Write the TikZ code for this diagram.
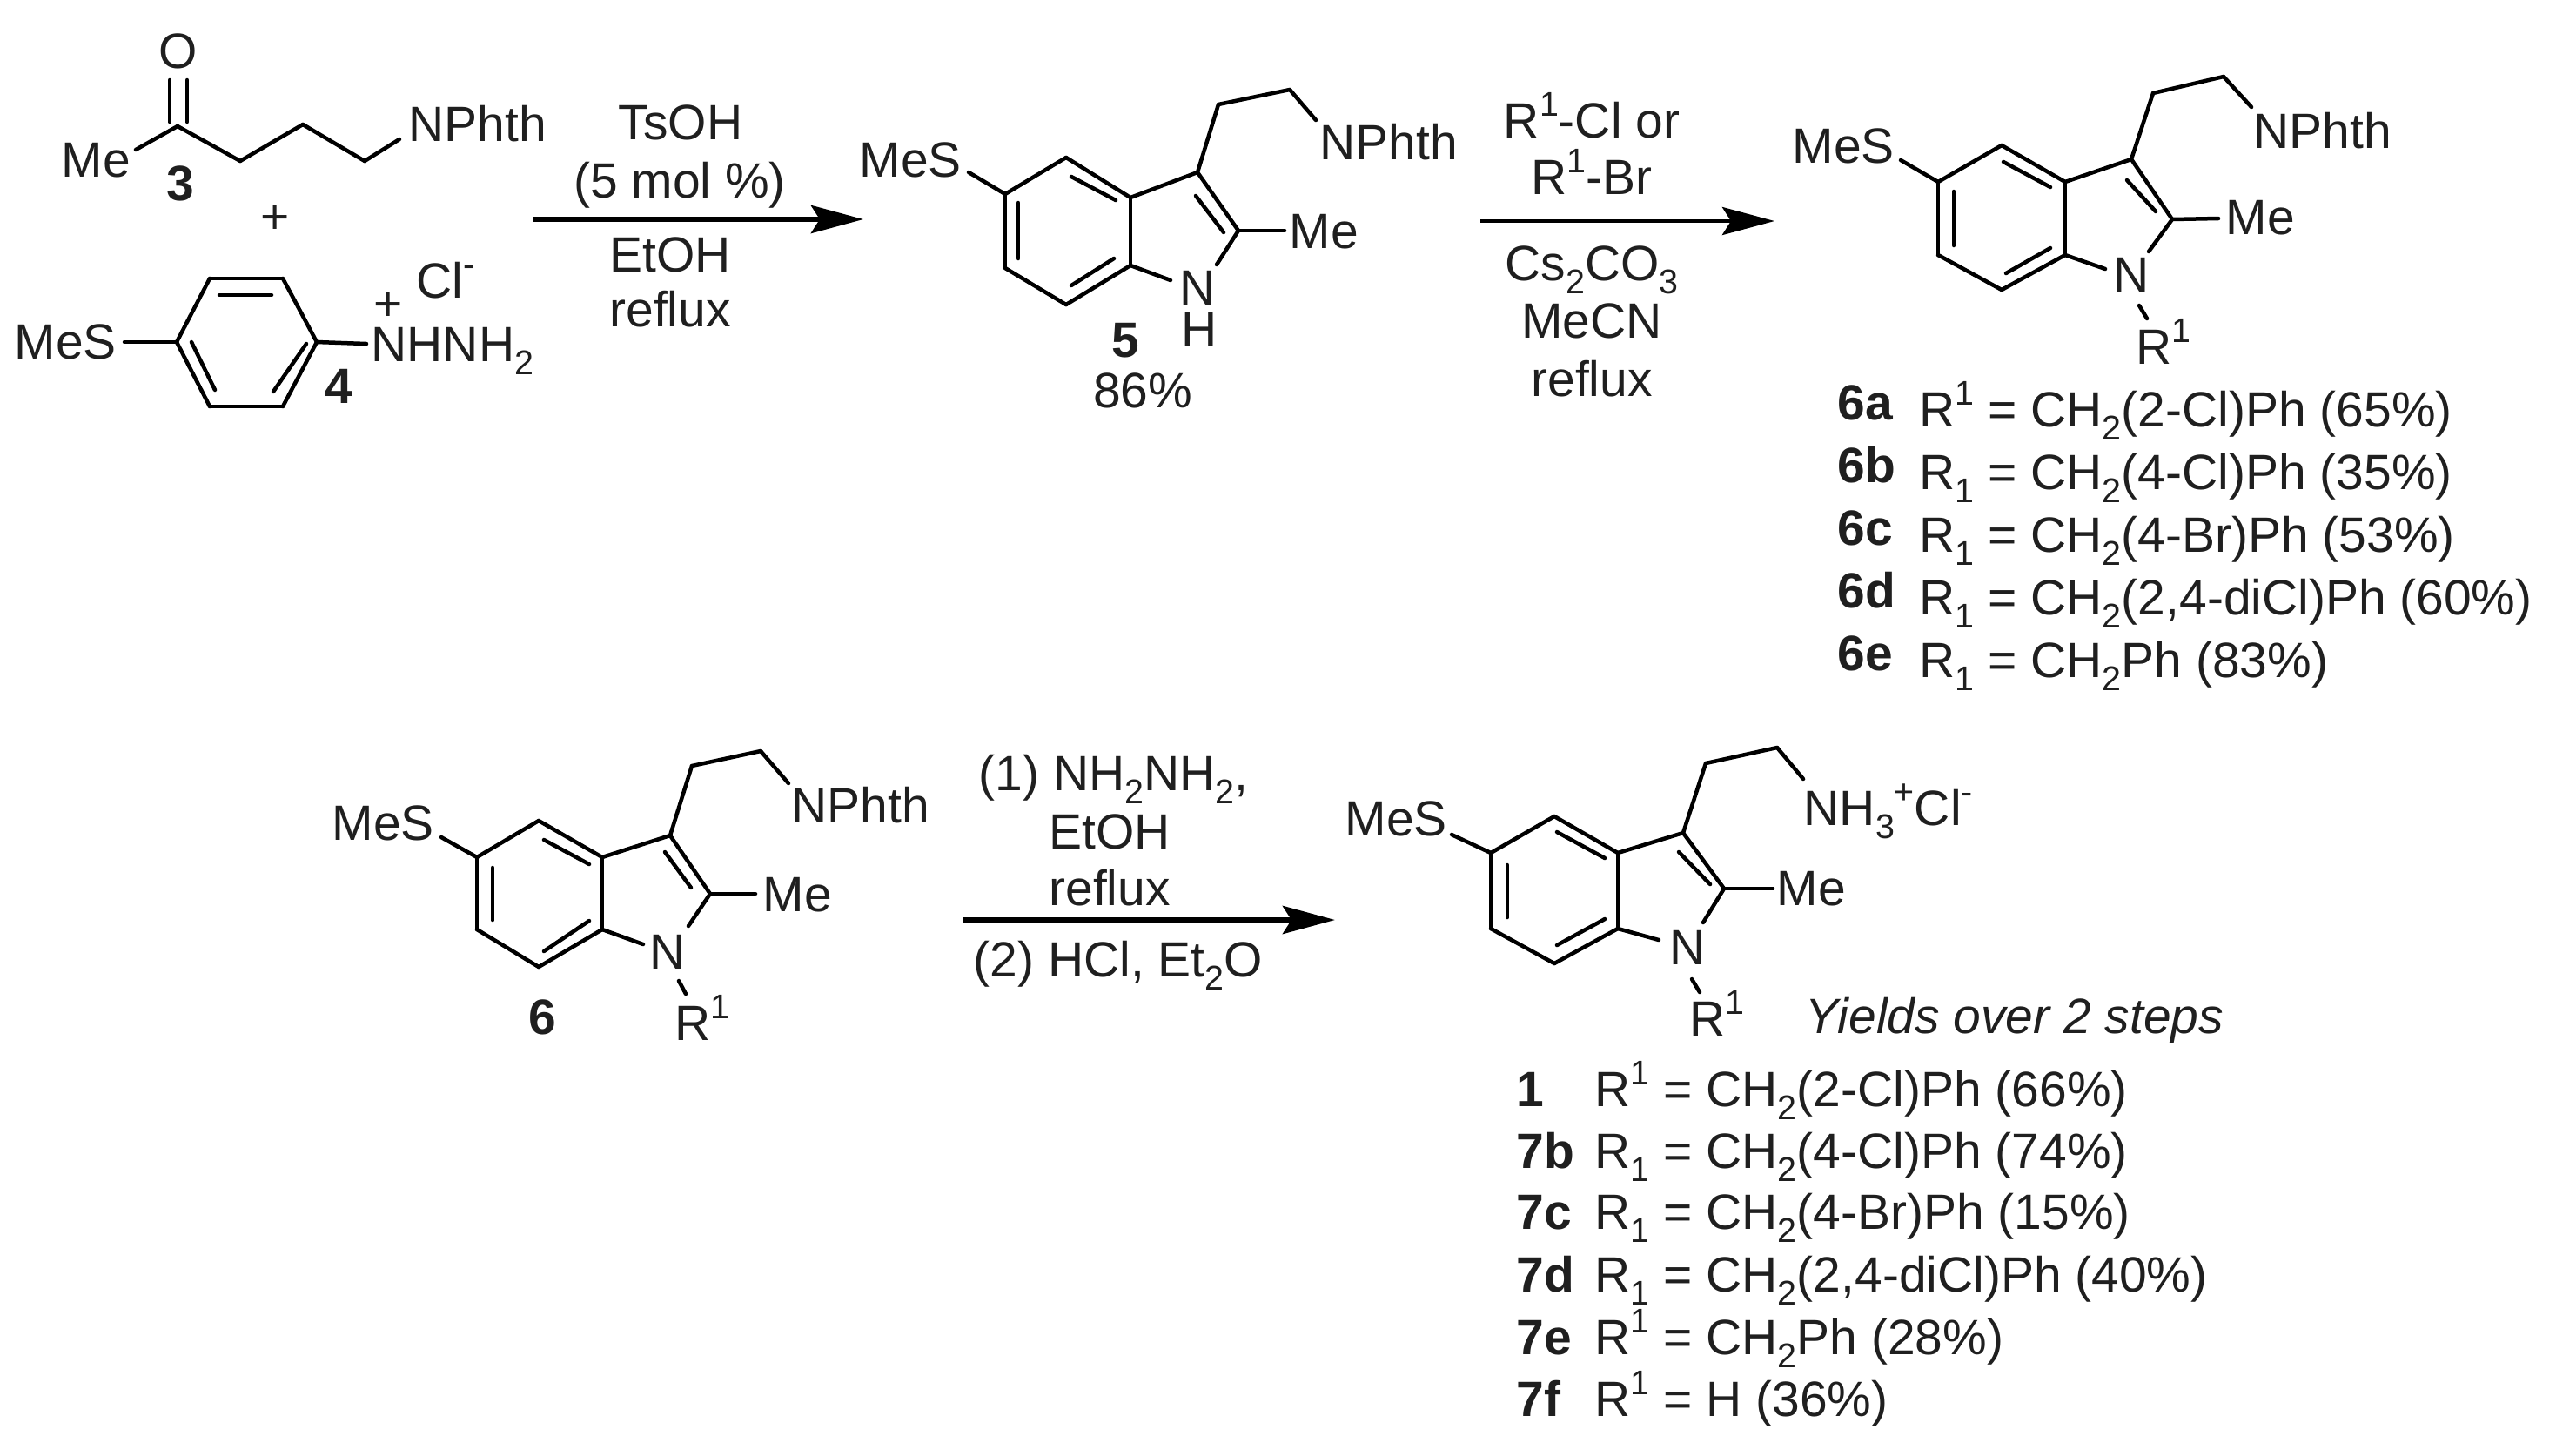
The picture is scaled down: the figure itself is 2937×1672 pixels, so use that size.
\documentclass[tikz,border=0pt]{standalone}
\usepackage{fontspec}
\setmainfont{Liberation Sans}
\usetikzlibrary{arrows.meta}
\newcommand{\chemsize}{\fontsize{16.2}{18}\selectfont}
\newcommand{\up}[1]{\raisebox{0.82ex}{\fontsize{11.2}{12}\selectfont #1}}
\newcommand{\dn}[1]{\raisebox{-0.5ex}{\fontsize{11.2}{12}\selectfont #1}}
\tikzset{
  bond/.style={line width=0.045cm, line cap=round, line join=round},
  rxn/.style={line width=0.06cm, -{Stealth[length=0.6cm, width=0.32cm, inset=0.1cm]}},
  label/.style={inner sep=0pt, font=\chemsize, text=black!88},
  atom/.style={label, anchor=base west, xshift=-0.03cm},
  mid/.style={label, anchor=base},
  cpd/.style={mid, font=\chemsize\bfseries},
}
\begin{document}
\begin{tikzpicture}[x=0.01cm, y=-0.01cm]
  \useasboundingbox (0,0) rectangle (2937,1672);

  % ketone 3
  \foreach \n/\x/\y in {meA/156/172, coA/204/145, ca/276/185, cb/348/143, cc/419/185, ncA/459/160,
      dbLa/195/92, dbLb/195/140, dbRa/215/92, dbRb/215/140}
    \coordinate (\n) at (\x,\y);
  \node[mid] (oxoA) at (205,78) {O};
  \node[atom] (meLabA) at (73,203) {Me};
  \node[atom] (nphA) at (472,162) {NPhth};
  \node[cpd] (cpdA) at (207,230) {3};
  \node[mid] (plusA) at (316,268) {+};
  \path[bond] (meA) edge (coA) (coA) edge (ca) (ca) edge (cb) (cb) edge (cc) (cc) edge (ncA)
        (dbLa) edge (dbLb) (dbRa) edge (dbRb);

  % hydrazine salt 4
  \foreach \n/\x/\y in {ra/241/320, rb/325/320, rc/364/393, rd/325/467, re/241/467, rf/203/393,
      ia/252/339, ib/312/339, ic/220/393, id/247/448, ie/352/395, if/314/450,
      sB/143/393, nB/421/395}
    \coordinate (\n) at (\x,\y);
  \node[atom] (mesB) at (19,412) {MeS};
  \node[atom] (hydB) at (429,415) {NHNH\dn{2}};
  \node[mid] (chgB) at (446,368) {+};
  \node[atom] (clB) at (481,342) {Cl\up{-}};
  \node[cpd] (cpdB) at (389,463) {4};
  \path[bond] (ra) edge (rb) (rb) edge (rc) (rc) edge (rd) (rd) edge (re) (re) edge (rf) (rf) edge (ra)
        (ia) edge (ib) (ic) edge (id) (ie) edge (if) (sB) edge (rf) (rc) edge (nB);

  % first arrow
  \coordinate (arAa) at (613,252);
  \coordinate (arAb) at (992,252);
  \draw[rxn] (arAa) -- (arAb);
  \node[mid] (tsoh) at (782,160) {TsOH};
  \node[mid] (molp) at (781,227) {(5 mol \%)};
  \node[mid] (etohA) at (770,312) {EtOH};
  \node[mid] (refA) at (770,375) {reflux};

  % indole 5
  \foreach \n/\x/\y in {a5/1155/223, b5/1225/181, c5/1299/227, d5/1299/305, e5/1225/350, f5/1155/308,
      g5/1376/198, h5/1423/265, j5/1400/120, k5/1482/103, l5/1512/138, s5/1113/198, m5/1476/265,
      p5/1345/322, q5/1398/304,
      ia5/1231/203, ib5/1282/230, ic5/1170/233, id5/1170/297, ie5/1231/328, if5/1280/297,
      ig5/1374/225, ih5/1406/267}
    \coordinate (\n) at (\x,\y);
  \node[atom] (mes5) at (990,203) {MeS};
  \node[atom] (nph5) at (1519,183) {NPhth};
  \node[atom] (me5) at (1484,285) {Me};
  \node[mid] (n5) at (1376,350) {N};
  \node[mid] (hyd5) at (1378,398) {H};
  \node[cpd] (cpd5) at (1293,410) {5};
  \node[mid] (yld5) at (1313,468) {86\%};
  \path[bond] (a5) edge (b5) (b5) edge (c5) (c5) edge (d5) (d5) edge (e5) (e5) edge (f5) (f5) edge (a5)
        (c5) edge (g5) (g5) edge (h5) (g5) edge (j5) (j5) edge (k5) (k5) edge (l5) (s5) edge (a5)
        (h5) edge (m5) (d5) edge (p5) (h5) edge (q5)
        (ia5) edge (ib5) (ic5) edge (id5) (ie5) edge (if5) (ig5) edge (ih5);

  % second arrow
  \coordinate (arBa) at (1701,254);
  \coordinate (arBb) at (2039,254);
  \draw[rxn, line width=0.045cm] (arBa) -- (arBb);
  \node[mid] (rcl) at (1829,158) {R\up{1}-Cl or};
  \node[mid] (rbr) at (1829,223) {R\up{1}-Br};
  \node[mid] (base) at (1829,322) {Cs\dn{2}CO\dn{3}};
  \node[mid] (mecn) at (1829,388) {MeCN};
  \node[mid] (refB) at (1829,455) {reflux};

  % indole 6, top right
  \foreach \n/\x/\y in {a6/2227/209, b6/2300/167, c6/2373/209, d6/2373/293, e6/2300/333, f6/2227/293,
      g6/2449/183, h6/2496/252, j6/2474/107, k6/2555/88, l6/2587/123, s6/2184/184, m6/2549/251,
      p6/2419/309, q6/2469/289, u6/2458/351, v6/2467/366,
      ia6/2302/186, ib6/2356/215, ic6/2245/220, id6/2245/282, ie6/2305/314, if6/2356/285,
      ig6/2444/207, ih6/2477/243}
    \coordinate (\n) at (\x,\y);
  \node[atom] (mes6) at (2062,187) {MeS};
  \node[atom] (nph6) at (2592,170) {NPhth};
  \node[atom] (me6) at (2560,269) {Me};
  \node[mid] (n6) at (2449,335) {N};
  \node[atom] (r6) at (2457,418) {R\up{1}};
  \path[bond] (a6) edge (b6) (b6) edge (c6) (c6) edge (d6) (d6) edge (e6) (e6) edge (f6) (f6) edge (a6)
        (c6) edge (g6) (g6) edge (h6) (g6) edge (j6) (j6) edge (k6) (k6) edge (l6) (s6) edge (a6)
        (h6) edge (m6) (d6) edge (p6) (h6) edge (q6) (u6) edge (v6)
        (ia6) edge (ib6) (ic6) edge (id6) (ie6) edge (if6) (ig6) edge (ih6);

  % table of 6
  \foreach \lab/\rgr/\txt/\y in {6a/R\up{1}/{CH\dn{2}(2-Cl)Ph (65\%)}/490,
      6b/R\dn{1}/{CH\dn{2}(4-Cl)Ph (35\%)}/562,
      6c/R\dn{1}/{CH\dn{2}(4-Br)Ph (53\%)}/634,
      6d/R\dn{1}/{CH\dn{2}(2,4-diCl)Ph (60\%)}/706,
      6e/R\dn{1}/{CH\dn{2}Ph (83\%)}/778} {
    \node[atom, font=\chemsize\bfseries] (lab\lab) at (2114,\y-8) {\lab};
    \node[atom] (row\lab) at (2208,\y) {\rgr{} = \txt};
  }

  % indole 6, second row
  \foreach \n/\x/\y in {aS/548/985, bS/619/943, cS/692/985, dS/692/1068, eS/619/1111, fS/548/1068,
      gS/770/960, hS/816/1027, jS/795/880, kS/874/863, lS/906/900, sS/507/962, mS/868/1027,
      pS/739/1085, qS/791/1064, uS/780/1127, vS/788/1142,
      iaS/625/965, ibS/677/993, icS/566/997, idS/566/1057, ieS/625/1093, ifS/677/1058,
      igS/764/979, ihS/794/1020}
    \coordinate (\n) at (\x,\y);
  \node[atom] (mesS) at (384,965) {MeS};
  \node[atom] (nphS) at (912,945) {NPhth};
  \node[atom] (meS) at (879,1047) {Me};
  \node[mid] (nS) at (767,1113) {N};
  \node[atom] (rS) at (778,1195) {R\up{1}};
  \node[cpd] (cpdS) at (623,1188) {6};
  \path[bond] (aS) edge (bS) (bS) edge (cS) (cS) edge (dS) (dS) edge (eS) (eS) edge (fS) (fS) edge (aS)
        (cS) edge (gS) (gS) edge (hS) (gS) edge (jS) (jS) edge (kS) (kS) edge (lS) (sS) edge (aS)
        (hS) edge (mS) (dS) edge (pS) (hS) edge (qS) (uS) edge (vS)
        (iaS) edge (ibS) (icS) edge (idS) (ieS) edge (ifS) (igS) edge (ihS);

  % third arrow
  \coordinate (arCa) at (1107,1057);
  \coordinate (arCb) at (1534,1057);
  \draw[rxn] (arCa) -- (arCb);
  \node[atom] (hydz) at (1127,908) {(1) NH\dn{2}NH\dn{2},};
  \node[mid] (etohC) at (1275,975) {EtOH};
  \node[mid] (refC) at (1275,1040) {reflux};
  \node[atom] (hcl) at (1121,1122) {(2) HCl, Et\dn{2}O};

  % indole 7
  \foreach \n/\x/\y in {a7/1713/980, b7/1786/938, c7/1859/980, d7/1859/1067, e7/1786/1107, f7/1713/1067,
      g7/1934/957, h7/1981/1021, j7/1960/877, k7/2042/859, l7/2072/895, s7/1668/959, m7/2037/1021,
      p7/1906/1080, q7/1957/1060, u7/1944/1125, v7/1953/1140,
      ia7/1789/956, ib7/1844/986, ic7/1732/994, id7/1732/1054, ie7/1789/1086, if7/1844/1056,
      ig7/1929/979, ih7/1965/1016}
    \coordinate (\n) at (\x,\y);
  \node[atom] (mes7) at (1548,960) {MeS};
  \node[atom] (amm7) at (2075,948) {NH\dn{3}\up{+}Cl\up{-}};
  \node[atom] (me7) at (2044,1040) {Me};
  \node[mid] (n7) at (1939,1108) {N};
  \node[atom] (r7) at (1944,1190) {R\up{1}};
  \node[atom, font=\chemsize\itshape] (yield7) at (2077,1187) {Yields over 2 steps};
  \path[bond] (a7) edge (b7) (b7) edge (c7) (c7) edge (d7) (d7) edge (e7) (e7) edge (f7) (f7) edge (a7)
        (c7) edge (g7) (g7) edge (h7) (g7) edge (j7) (j7) edge (k7) (k7) edge (l7) (s7) edge (a7)
        (h7) edge (m7) (d7) edge (p7) (h7) edge (q7) (u7) edge (v7)
        (ia7) edge (ib7) (ic7) edge (id7) (ie7) edge (if7) (ig7) edge (ih7);

  % table of 7
  \foreach \lab/\rgr/\txt/\y in {1/R\up{1}/{CH\dn{2}(2-Cl)Ph (66\%)}/1271,
      7b/R\dn{1}/{CH\dn{2}(4-Cl)Ph (74\%)}/1342,
      7c/R\dn{1}/{CH\dn{2}(4-Br)Ph (15\%)}/1412,
      7d/R\dn{1}/{CH\dn{2}(2,4-diCl)Ph (40\%)}/1484,
      7e/R\up{1}/{CH\dn{2}Ph (28\%)}/1556,
      7f/R\up{1}/{H (36\%)}/1627} {
    \node[atom, font=\chemsize\bfseries] (lab\lab) at (1745,\y) {\lab};
    \node[atom] (row\lab) at (1835,\y) {\rgr{} = \txt};
  }
\end{tikzpicture}
\end{document}
